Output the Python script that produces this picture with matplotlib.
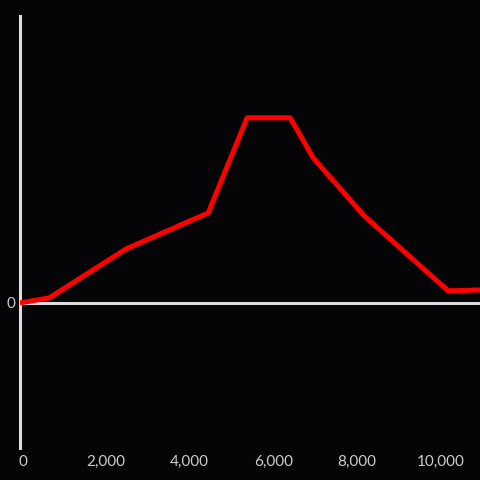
import matplotlib
matplotlib.use("Agg")
import matplotlib.pyplot as plt
from matplotlib.transforms import ScaledTranslation

x_vals = [0, 700, 2540, 4500, 5430, 6460, 7010, 8230, 10240, 11000]
y_vals = [0, 2.7, 29.2, 48.6, 100, 100, 78.4, 47, 6.5, 7]
x_ticks = [0, 2000, 4000, 6000, 8000, 10000]

bg = "#050407"
fg = "#dddddd"

fig = plt.figure(figsize=(4.8, 4.8), dpi=100, facecolor=bg)
ax = fig.add_axes([20 / 480, 32 / 480, 460 / 480, 432 / 480], facecolor=bg)

ax.plot(x_vals, y_vals, color="#ff0000", linewidth=3.6, solid_capstyle="butt", zorder=3)
ax.axhline(0, color=fg, linewidth=2.2, zorder=2)

ax.set_xlim(0, 11000)
ax.set_ylim(-78.4, 155)

for s in ["top", "right", "bottom"]:
	ax.spines[s].set_visible(False)
ax.spines["left"].set_color(fg)
ax.spines["left"].set_linewidth(2.2)

ax.set_xticks(x_ticks)
ax.set_xticklabels(["{:,}".format(v) for v in x_ticks])
ax.set_yticks([0])
ax.set_yticklabels(["0"])
ax.tick_params(axis="both", length=0, colors=fg, labelsize=11)
ax.tick_params(axis="x", pad=5)
ax.tick_params(axis="y", pad=3)
shift = ScaledTranslation(2.5 / 100, 0, fig.dpi_scale_trans)
for lbl in ax.get_xticklabels():
	lbl.set_transform(lbl.get_transform() + shift)
for lbl in ax.get_xticklabels() + ax.get_yticklabels():
	lbl.set_family("Lato")
	lbl.set_color("#cccccc")

fig.savefig("out.png", dpi=100, facecolor=bg)
